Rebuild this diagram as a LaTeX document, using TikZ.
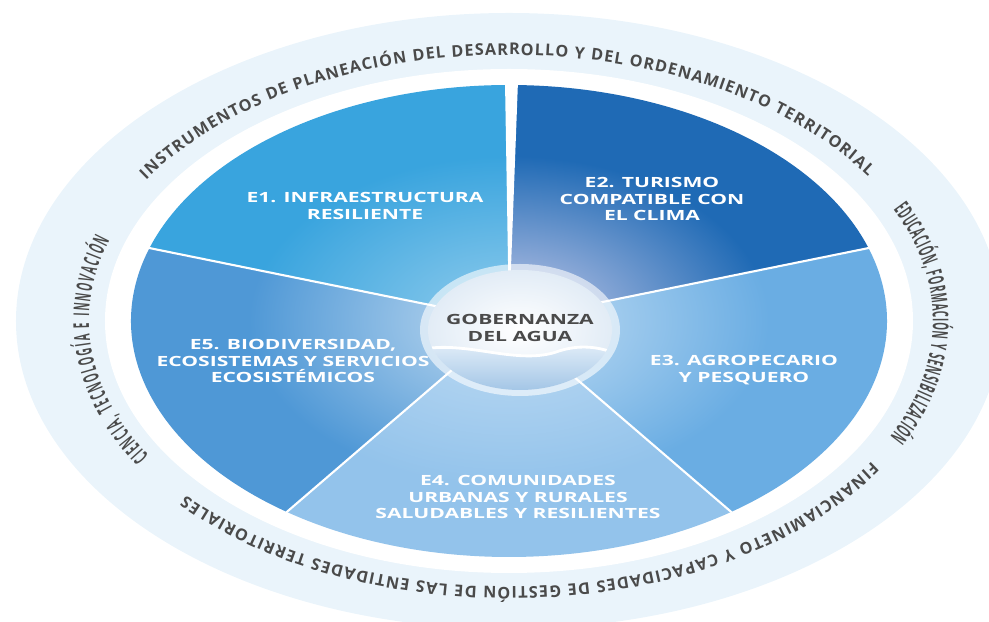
\documentclass[tikz,border=0pt]{standalone}
\usepackage{fontspec}
\setmainfont{Open Sans}
\newfontfamily\sectorfont[FakeStretch=1.5]{Open Sans}
\newfontfamily\ringfont[FakeStretch=1.0]{Open Sans}
\newfontfamily\sidefont[FakeStretch=0.45]{Open Sans}
\usetikzlibrary{decorations.text}
\definecolor{eone}{HTML}{39A4DE}
\definecolor{etwo}{HTML}{1F6AB5}
\definecolor{ethree}{HTML}{6AADE3}
\definecolor{efour}{HTML}{93C3EB}
\definecolor{efive}{HTML}{4F98D6}
\definecolor{etwoglow}{HTML}{C9CCEA}
\definecolor{ringbg}{HTML}{EAF4FB}
\definecolor{ringgray}{HTML}{4A4A4A}
\definecolor{sphereedge}{HTML}{E2ECF6}
\definecolor{waterlight}{HTML}{E4EFF9}
\definecolor{waterdark}{HTML}{9CC1E4}
\begin{document}
\begin{tikzpicture}[line cap=round, line join=round, x=0.025cm, y=0.025cm]
	\tikzset{sector text/.style={text=white, align=center, font=\sectorfont\bfseries\fontsize{10}{11.8}\selectfont},
		ring text/.style={decorate, decoration={text along path, text align=fit to path, text color=ringgray}}}
	\useasboundingbox (-509,-301) rectangle (480,321);
	% rings
	\fill[ringbg] (0,0) ellipse[x radius=493, y radius=308];
	\fill[white] (0,0) ellipse[x radius=404, y radius=252];
	% sectors
	\foreach \s/\e/\c/\g in {90/162/eone/eone!55!white, 18/90/etwo/etwoglow, -54/18/ethree/ethree!40!white, -126/-54/efour/efour!60!white, 162/234/efive/efive!35!white}{
		\begin{scope}
			\clip (0,0) -- (\s:378 and 236) arc[start angle=\s, end angle=\e, x radius=378, y radius=236] -- cycle;
			\fill[\c] (-380,-240) rectangle (380,240);
			\shade[inner color=\g, outer color=\c] (0,0) ellipse[x radius=260, y radius=165];
		\end{scope}
	}
	\foreach \a in {18,-54,-126,162}
		\draw[white, line width=1.5pt] (0,0) -- (\a:378 and 236);
	\fill[white] (0,0) -- (-4,240) -- (9,240) -- cycle;
	% center
	\fill[white, opacity=0.6] (11,-9) ellipse[x radius=100, y radius=66];
	\shade[inner color=white, outer color=sphereedge] (11,-9) ellipse[x radius=92, y radius=60];
	\begin{scope}
		\clip (11,-9) ellipse[x radius=92, y radius=60];
		\shade[top color=waterlight, bottom color=waterdark] (-85,-28) .. controls (-40,-20) and (10,-45) .. (50,-30) .. controls (75,-22) and (95,-28) .. (105,-32) -- (105,-75) -- (-85,-75) -- cycle;
		\draw[white, line width=2pt] (-85,-28) .. controls (-40,-20) and (10,-45) .. (50,-30) .. controls (75,-22) and (95,-28) .. (105,-32);
	\end{scope}
	\node[sector text, text=ringgray] (gob) at (11,-7) {GOBERNANZA\\DEL AGUA};
	% sector labels
	\node[sector text] (e1) at (-144,115) {E1. INFRAESTRUCTURA\\RESILIENTE};
	\node[sector text] (e2) at (143,122) {E2. TURISMO\\COMPATIBLE CON\\EL CLIMA};
	\node[sector text] (e3) at (235,-49) {E3. AGROPECARIO\\Y PESQUERO};
	\node[sector text] (e4) at (9,-176) {E4. COMUNIDADES\\URBANAS Y RURALES\\SALUDABLES Y RESILIENTES};
	\node[sector text] (e5) at (-216,-40) {E5. BIODIVERSIDAD,\\ECOSISTEMAS Y SERVICIOS\\ECOSISTÉMICOS};
	% ring labels
	\path[ring text, decoration={text={|\ringfont\bfseries\fontsize{11.5}{13}\selectfont|INSTRUMENTOS DE PLANEACIÓN DEL DESARROLLO Y DEL ORDENAMIENTO TERRITORIAL}}]
		(148:428 and 266) arc[start angle=148, end angle=33, x radius=428, y radius=266];
	\path[ring text, decoration={text={|\sidefont\bfseries\fontsize{15.5}{16}\selectfont|EDUCACIÓN, FORMACIÓN Y SENSIBILIZACIÓN}}]
		(25:424 and 264) arc[start angle=25, end angle=-26, x radius=424, y radius=264];
	\path[ring text, decoration={text={|\ringfont\bfseries\fontsize{11.5}{13}\selectfont|FINANCIAMINETO Y CAPACIDADES DE GESTIÓN DE LAS ENTIDADES TERRITORIALES}}]
		(-32:428 and 266) arc[start angle=-32, end angle=-139, x radius=428, y radius=266];
	\path[ring text, decoration={text={|\sidefont\bfseries\fontsize{15.5}{16}\selectfont|CIENCIA, TECNOLOGÍA E INNOVACIÓN}}]
		(211:420 and 262) arc[start angle=211, end angle=162, x radius=420, y radius=262];
\end{tikzpicture}
\end{document}
